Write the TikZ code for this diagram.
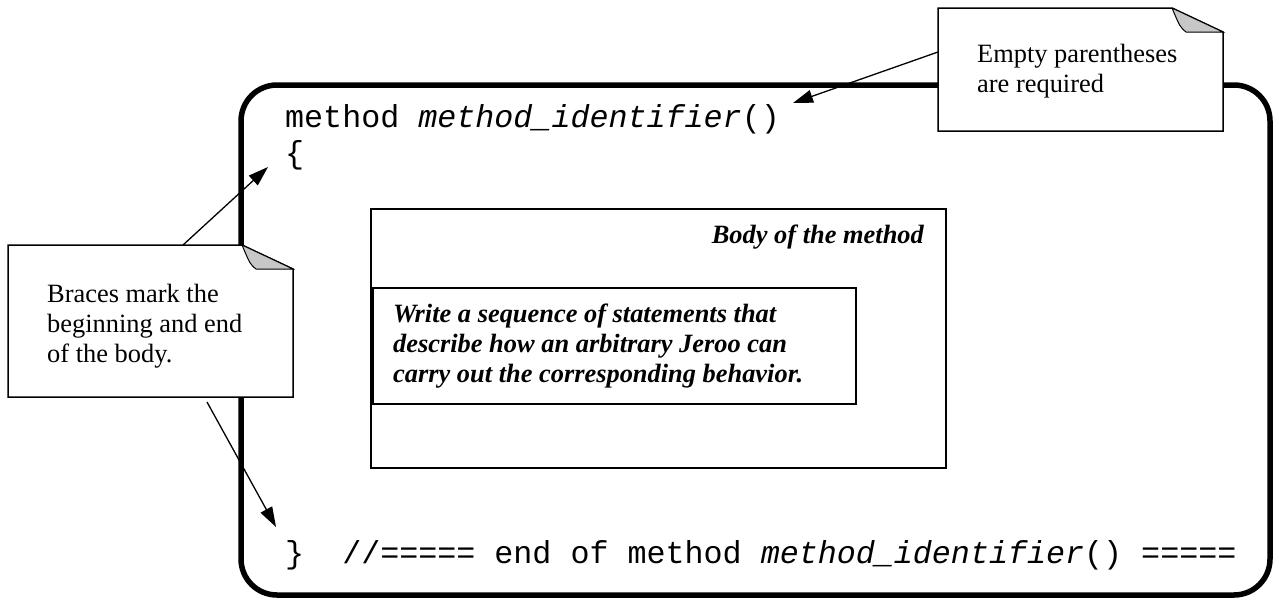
\documentclass[tikz,border=0pt]{standalone}
\usepackage{fontspec}
\setmainfont{Liberation Serif}
\setmonofont{Liberation Mono}
\usetikzlibrary{calc,arrows.meta}

\tikzset{
  frame/.style={line width=5.5pt,rounded corners=36pt},
  thinbox/.style={draw,line width=1.5pt,inner sep=0pt,outer sep=0pt,anchor=north west},
  note/.style={inner sep=0pt,outer sep=0pt,anchor=north west},
  notetext/.style={anchor=base west,inner sep=0pt,align=left,font=\fontsize{26.4}{30}\selectfont},
  bodytext/.style={anchor=base west,inner sep=0pt,align=left,font=\bfseries\itshape\fontsize{26.4}{30}\selectfont},
  code/.style={anchor=base west,inner sep=0pt,font=\ttfamily\fontsize{31.7}{36}\selectfont},
  fold/.style={fill=black!22,draw,line width=1pt},
  arr/.style={line width=1.3pt,-{Triangle[length=20pt,width=13pt]}},
}

% note with a turned-down corner
\newcommand\foldnote[1]{%
  \draw[line width=1.5pt,fill=white] (#1.north west) -- ($(#1.north east)+(-51,0)$)
    -- ($(#1.north east)+(0,24)$) -- (#1.south east) -- (#1.south west) -- cycle;
  \draw[fold] ($(#1.north east)+(-51,0)$) -- ($(#1.north east)+(0,24)$)
    -- ($(#1.north east)+(-37,24)$) .. controls ($(#1.north east)+(-43,19)$) .. ($(#1.north east)+(-51,0)$);
}

\begin{document}
\begin{tikzpicture}[x=1pt,y=-1pt]
\useasboundingbox (0,0) rectangle (1273,598);

% the method
\draw[frame] (241,85) rectangle (1270,595);
\node[code] (head) at (285,127) {method \textit{method\_identifier}()};
\node[code] (open) at (285,163) {\{};
\node[code] (close) at (285,563) {\}\ \ //===== end of method \textit{method\_identifier}() =====};

% body (base of a multi-line node = last line)
\node[thinbox,minimum width=575pt,minimum height=259pt] (body) at (371,209) {};
\node[thinbox,minimum width=483pt,minimum height=116pt] (steps) at (373,288) {};
\node[bodytext,anchor=base east] (bodylabel) at (924,243) {Body of the method};
\node[bodytext] (stepstext) at (393,382) {Write a sequence of statements that\\describe how an arbitrary Jeroo can\\carry out the corresponding behavior.};

% notes
\node[note,minimum width=285pt,minimum height=123pt] (paren) at (938,8) {};
\foldnote{paren}
\node[notetext] (parentext) at (977,92) {Empty parentheses\\are required};

\node[note,minimum width=285pt,minimum height=152pt] (braces) at (8,245) {};
\foldnote{braces}
\node[notetext] (bracestext) at (47,362) {Braces mark the\\beginning and end\\of the body.};

% arrows
\coordinate (parentip) at (793,103);
\coordinate (opentip) at (268,167);
\coordinate (closetip) at (276,527);
\draw[arr] ($(paren.north west)+(0,44)$) -- (parentip);
\draw[arr] ($(braces.north west)+(175,0)$) -- (opentip);
\draw[arr] ($(braces.south west)+(199,5)$) -- (closetip);
\end{tikzpicture}
\end{document}
